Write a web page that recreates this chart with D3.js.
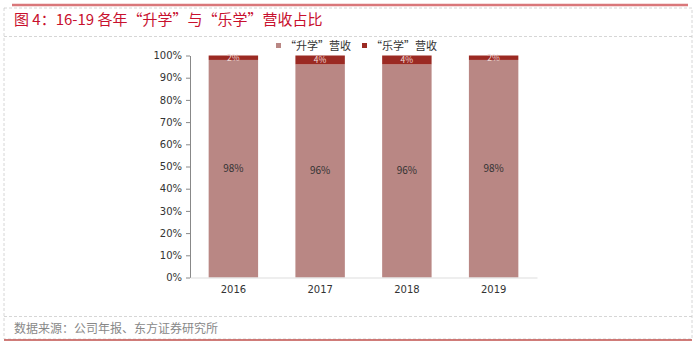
<!DOCTYPE html>
<html><head><meta charset="utf-8">
<script src="https://cdn.jsdelivr.net/npm/d3@7"></script>
<style>
body{margin:0;background:#fff;}
svg{display:block;font-family:"Noto Sans CJK SC","Noto Sans",sans-serif;}
</style></head>
<body><svg id="c" width="700" height="347"></svg>
<script>
const years = ["2016","2017","2018","2019"];
const shengxue = [98,96,96,98];
const lexue = [2,4,4,2];
const seriesNames = ["“升学”营收","“乐学”营收"];
const yTicks = [0,10,20,30,40,50,60,70,80,90,100];
const titleText = "图 4：16-19 各年“升学”与“乐学”营收占比";
const sourceText = "数据来源：公司年报、东方证券研究所";
const colors = ["#b98784","#9b2a23"];

const svg = d3.select("#c");
// frame
svg.append("line").attr("x1",12).attr("x2",688).attr("y1",5).attr("y2",5).attr("stroke","#d9777a").attr("stroke-width",2.5);
svg.append("rect").attr("x",4).attr("y",8).attr("width",688).attr("height",331).attr("fill","none").attr("stroke","#ccc").attr("stroke-dasharray","3,2").attr("stroke-width",0.8);
svg.append("line").attr("x1",4).attr("x2",692).attr("y1",36.5).attr("y2",36.5).attr("stroke","#ccc").attr("stroke-dasharray","3,2").attr("stroke-width",0.8);
svg.append("line").attr("x1",4).attr("x2",692).attr("y1",316.5).attr("y2",316.5).attr("stroke","#ccc").attr("stroke-dasharray","3,2").attr("stroke-width",0.8);
svg.append("line").attr("x1",4).attr("x2",692).attr("y1",340).attr("y2",340).attr("stroke","#c0504d").attr("stroke-width",1.5);
svg.append("text").attr("x",14).attr("y",25).attr("fill","#c8102e").attr("font-size",15).text(titleText);
svg.append("text").attr("x",14).attr("y",333).attr("fill","#888").attr("font-size",12).text(sourceText);

const x = d3.scaleBand().domain(years).range([190,537]).paddingInner(0.43).paddingOuter(0.215);
const y = d3.scaleLinear().domain([0,100]).range([277.5,55.5]);

const rows = years.map((yr,i)=>({year:yr, s:shengxue[i], l:lexue[i]}));
const stack = d3.stack().keys(["s","l"])(rows);

const g = svg.append("g");
stack.forEach((layer,k)=>{
  g.selectAll(null).data(layer).enter().append("rect")
   .attr("x",d=>x(d.data.year)).attr("width",x.bandwidth())
   .attr("y",d=>y(d[1])).attr("height",d=>y(d[0])-y(d[1]))
   .attr("fill",colors[k]);
});
// labels
g.selectAll(null).data(stack[0]).enter().append("text")
 .attr("x",d=>x(d.data.year)+x.bandwidth()/2).attr("y",d=>y((d[0]+d[1])/2)+3.5)
 .attr("text-anchor","middle").attr("font-size",10).attr("fill","#333")
 .text(d=>d.data.s+"%");
g.selectAll(null).data(stack[1]).enter().append("text")
 .attr("x",d=>x(d.data.year)+x.bandwidth()/2).attr("y",d=>y((d[0]+d[1])/2)+3)
 .attr("text-anchor","middle").attr("font-size",8.5).attr("fill","#f0d8d6")
 .text(d=>d.data.l+"%");

// y axis
const ya = svg.append("g").attr("transform","translate(190,0)")
 .call(d3.axisLeft(y).tickValues(yTicks).tickFormat(d=>d+"%").tickSize(4).tickSizeOuter(0));
ya.select(".domain").attr("stroke","#888");
ya.selectAll(".tick line").attr("stroke","#888");
ya.selectAll("text").attr("fill","#333").attr("font-size",10).attr("font-family","'DejaVu Sans',sans-serif").attr("dx",-1);
// x axis
const xa = svg.append("g").attr("transform","translate(0,277.5)")
 .call(d3.axisBottom(x).tickSize(0).tickPadding(8));
xa.select(".domain").attr("stroke","#ddd");
xa.selectAll("text").attr("fill","#333").attr("font-size",10).attr("font-family","'DejaVu Sans',sans-serif");

// legend
const lg = svg.append("g");
const lx = [276,362];
seriesNames.forEach((n,i)=>{
  lg.append("rect").attr("x",lx[i]).attr("y",43).attr("width",5).attr("height",5).attr("fill",colors[i]);
  lg.append("text").attr("x",lx[i]+9).attr("y",50).attr("font-size",11).attr("fill","#333").text(n);
});
</script></body></html>
